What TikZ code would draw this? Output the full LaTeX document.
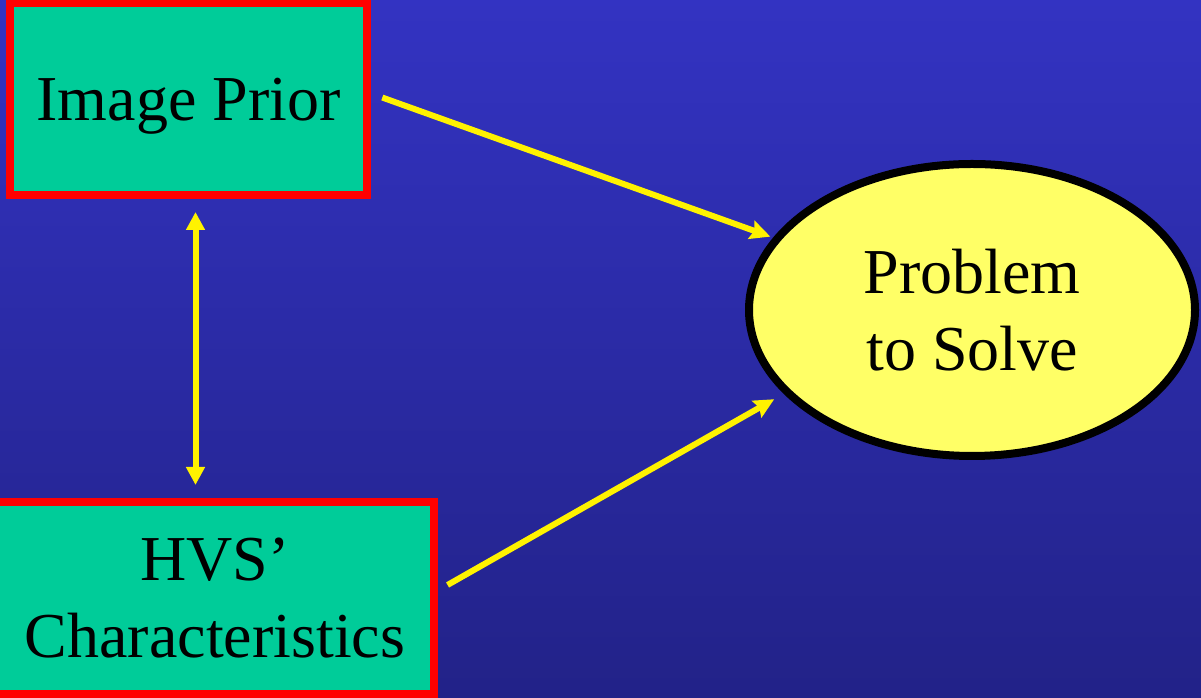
\documentclass[tikz,border=0pt]{standalone}
\usepackage{fontspec}
\setmainfont{Liberation Serif}
\usetikzlibrary{shapes.geometric,arrows.meta}

\definecolor{slidetop}{RGB}{51,51,194}
\definecolor{slidebot}{RGB}{34,34,136}
\definecolor{boxgreen}{RGB}{0,204,153}
\definecolor{ovalyellow}{RGB}{255,255,102}

\begin{document}
\begin{tikzpicture}[x=1bp, y=1bp, font=\fontsize{64bp}{77bp}\selectfont,
	box/.style={draw=red, line width=8bp, fill=boxgreen, align=center, minimum height=192bp},
	link/.style={draw=yellow, line width=6bp, -{Stealth[length=20bp,width=19bp,inset=3bp]}}]
	\shade[top color=slidetop, bottom color=slidebot] (0, 0) rectangle (1201, 698);
	\useasboundingbox (0, 0) rectangle (1201, 698);

	\node[box, minimum width=357bp, text depth=0pt] (prior) at (188.5, 599) {Image Prior};
	\node[box, minimum width=438bp] (hvs) at (215, 100) {HVS’\\Characteristics};
	\node[ellipse, draw=black, line width=8bp, fill=ovalyellow, align=center,
		minimum width=446bp, minimum height=292bp] (solve) at (972, 388) {Problem\\to Solve};

	\draw[link, shorten <=12bp, shorten >=3bp] ([yshift=5.5bp]prior.east) -- (solve.160);
	\draw[link, shorten <=11bp, shorten >=11bp] ([yshift=7.6bp]hvs.east) -- (solve.204);
	\draw[link, {Triangle[length=18bp,width=18bp]}-{Triangle[length=18bp,width=18bp]}, shorten <=13bp, shorten >=13bp]
		([xshift=7bp]prior.south) -- ([xshift=7bp]prior.south |- hvs.north);
\end{tikzpicture}
\end{document}
